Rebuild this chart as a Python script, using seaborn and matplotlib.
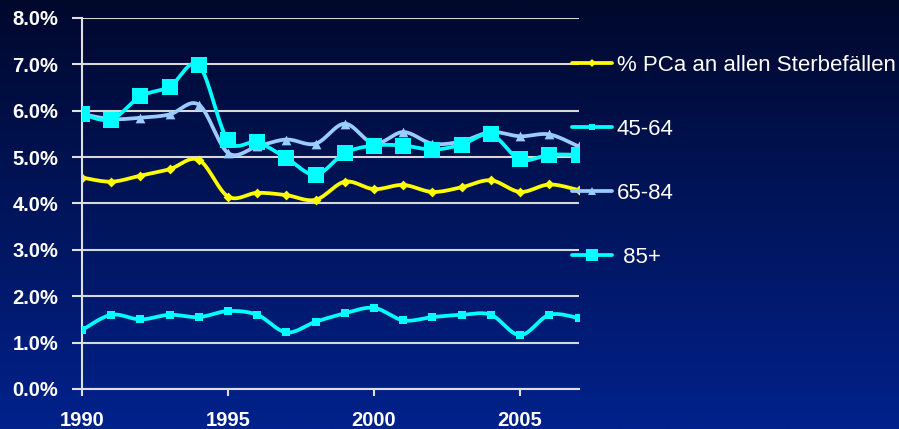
import numpy as np
import pandas as pd
import matplotlib
matplotlib.use("Agg")
import matplotlib.pyplot as plt
import seaborn as sns
from matplotlib.lines import Line2D

years = list(range(1990, 2008))
pca_all = [4.56, 4.47, 4.60, 4.74, 4.94, 4.15, 4.23, 4.18, 4.08, 4.47, 4.31, 4.40, 4.25, 4.35, 4.50, 4.25, 4.41, 4.29]
age_45_64 = [1.27, 1.60, 1.50, 1.60, 1.55, 1.68, 1.60, 1.22, 1.45, 1.63, 1.75, 1.48, 1.55, 1.60, 1.60, 1.16, 1.60, 1.53]
age_65_84 = [5.93, 5.82, 5.85, 5.92, 6.13, 5.09, 5.23, 5.38, 5.29, 5.72, 5.29, 5.54, 5.29, 5.34, 5.54, 5.45, 5.49, 5.23]
age_85p = [5.93, 5.81, 6.31, 6.52, 6.98, 5.36, 5.32, 4.98, 4.62, 5.09, 5.25, 5.25, 5.16, 5.27, 5.49, 4.95, 5.05, 5.05]
labels = ["% PCa an allen Sterbefällen", "45-64", "65-84", " 85+"]
y_ticks = [0, 1, 2, 3, 4, 5, 6, 7, 8]
x_ticks = [1990, 1995, 2000, 2005]

sns.set_theme(style="white")
plt.rcParams["font.family"] = ["Liberation Sans", "DejaVu Sans"]

fig = plt.figure(figsize=(8.99, 4.29), dpi=100)
# gradient background
bg = fig.add_axes([0, 0, 1, 1], zorder=-10)
top = np.array([0x00, 0x08, 0x2C]) / 255
bot = np.array([0x02, 0x22, 0x8C]) / 255
t = np.linspace(0, 1, 256)[:, None]
grad = top[None, :] * (1 - t) + bot[None, :] * t
bg.imshow(grad[:, None, :], aspect="auto", extent=[0, 1, 0, 1])
bg.set_axis_off()

ax = fig.add_axes([82 / 899, 40 / 429, (578.5 - 82) / 899, (389 - 18) / 429])
ax.set_facecolor("none")


def smooth(xs, ys, n=20):
    xs = np.asarray(xs, float)
    ys = np.asarray(ys, float)
    P = np.column_stack([xs, ys])
    out = []
    for i in range(len(P) - 1):
        p0 = P[i - 1] if i > 0 else P[i]
        p1 = P[i]
        p2 = P[i + 1]
        p3 = P[i + 2] if i + 2 < len(P) else P[i + 1]
        c1 = p1 + (p2 - p0) / 6
        c2 = p2 - (p3 - p1) / 6
        s = np.linspace(0, 1, n)[:, None]
        seg = (1 - s) ** 3 * p1 + 3 * (1 - s) ** 2 * s * c1 + 3 * (1 - s) * s ** 2 * c2 + s ** 3 * p2
        out.append(seg if i == 0 else seg[1:])
    seg = np.vstack(out)
    return seg[:, 0], seg[:, 1]


series = [
    (pca_all, "#FFFF00", "D", 5, 2),
    (age_45_64, "#00FFFF", "s", 6, 3),
    (age_65_84, "#99CCFF", "^", 7, 4),
    (age_85p, "#00FFFF", "s", 11, 5),
]
handles = []
for (vals, col, mk, ms, z), lab in zip(series, labels):
    sx, sy = smooth(years, vals)
    ax.plot(sx, sy, color=col, lw=2.7, zorder=z, solid_capstyle="round")
    df = pd.DataFrame({"year": years, "value": vals})
    sns.scatterplot(data=df, x="year", y="value", ax=ax, color=col, marker=mk,
                    s=ms ** 2, edgecolor=col, linewidth=0, zorder=z + 0.5, legend=False)
    handles.append(Line2D([0], [0], color=col, lw=2.7, marker=mk,
                          markersize=ms * 0.75 if ms > 8 else ms * 0.8, markeredgewidth=0))

ax.set_xlim(1990, 2007)
ax.set_ylim(0, 8)
ax.set_yticks(y_ticks)
ax.set_yticklabels([f"{v:.1f}%" for v in y_ticks])
ax.set_xticks(x_ticks)
ax.set_xticklabels([str(v) for v in x_ticks])
ax.set_xlabel("")
ax.set_ylabel("")
ax.grid(axis="y", color="#D8D8D8", lw=1.5)
ax.grid(axis="x", visible=False)
for sp in ["top", "right"]:
    ax.spines[sp].set_visible(False)
for sp in ["left", "bottom"]:
    ax.spines[sp].set_color("#E0E0E0")
    ax.spines[sp].set_linewidth(1.5)
ax.tick_params(axis="both", colors="#E0E0E0", width=1.5, direction="out",
               labelcolor="white", labelsize=14.5, left=True, bottom=True)
ax.tick_params(axis="y", length=7, pad=10)
ax.tick_params(axis="x", length=5, pad=11)
for lbl in ax.get_xticklabels() + ax.get_yticklabels():
    lbl.set_fontweight("bold")

leg = fig.legend(handles, labels, loc="upper left", bbox_to_anchor=(572 / 899, 1 - 55 / 429),
                 frameon=False, fontsize=16, labelcolor="white", handlelength=1.8,
                 handletextpad=0.22, labelspacing=1.93, borderaxespad=0, borderpad=0)

fig.savefig("out.png", dpi=100)
